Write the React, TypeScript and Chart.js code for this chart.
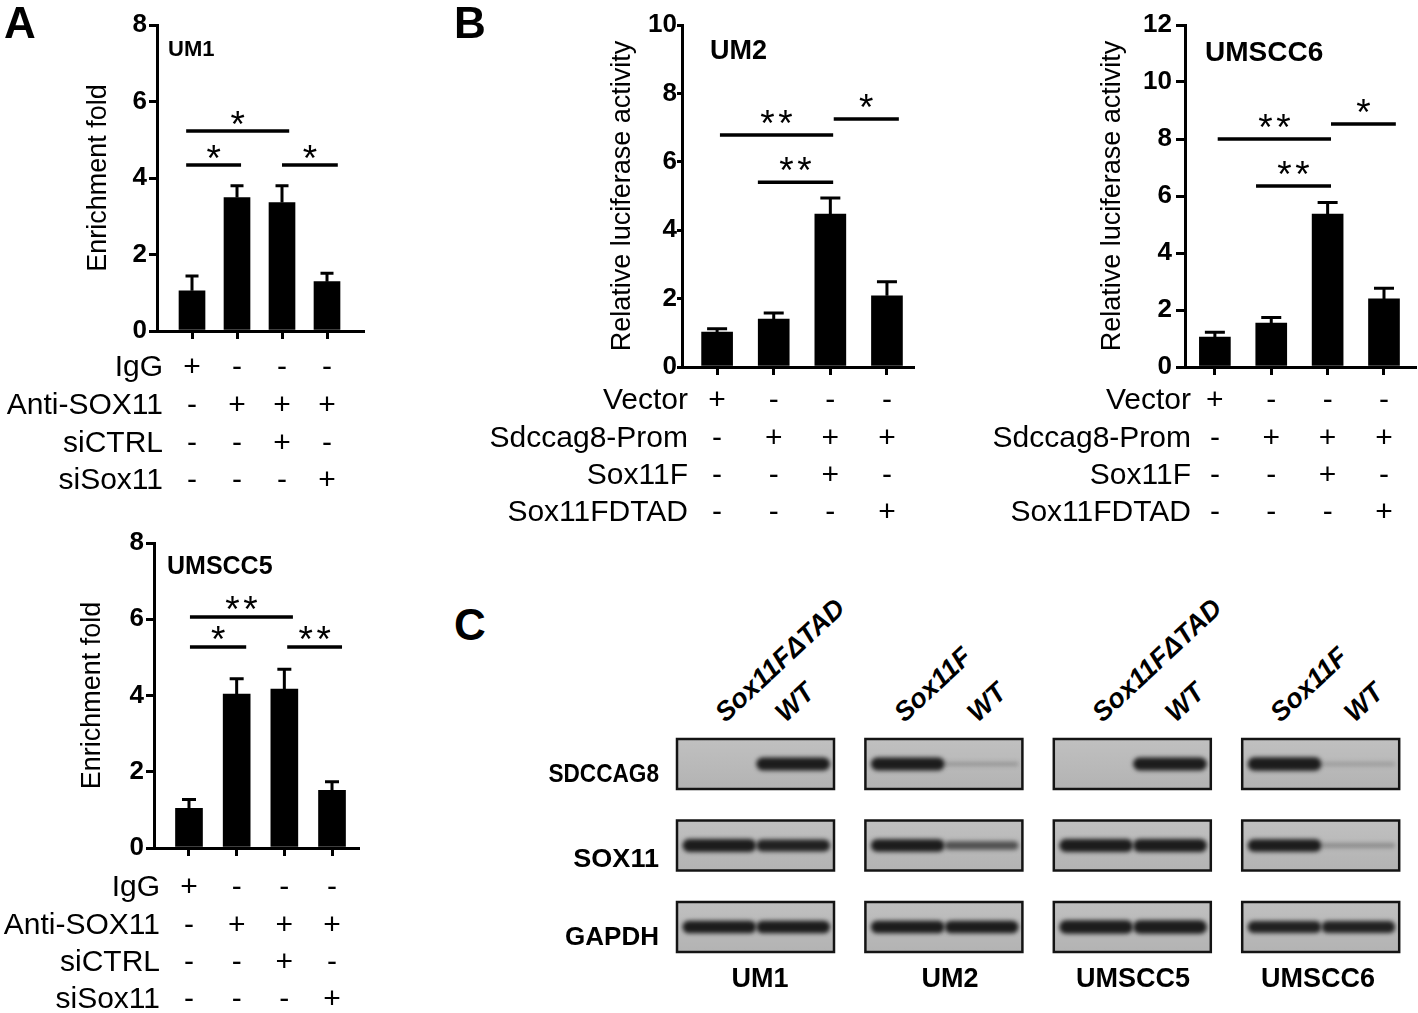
import React, { useEffect, useRef } from "react";
import { Chart, registerables } from "chart.js";

Chart.register(...registerables);

const FONT = '"Liberation Sans", Arial, Helvetica, sans-serif';

// ---------------- Panel A : ChIP enrichment ----------------
const A_CONDITIONS = ["IgG", "Anti-SOX11", "siCTRL", "siSox11"];
const A_SIGNS = [
  ["+", "-", "-", "-"],
  ["-", "+", "+", "+"],
  ["-", "-", "+", "-"],
  ["-", "-", "-", "+"],
];
const A_TICKS = [0, 2, 4, 6, 8];

const UM1_ENRICH = [1.05, 3.49, 3.36, 1.29];
const UM1_ERR = [0.39, 0.31, 0.44, 0.22];
const UM1_SIG_FROM = [-0.13, -0.13, 2.0];
const UM1_SIG_TO = [2.16, 1.09, 3.24];
const UM1_SIG_Y = [5.23, 4.34, 4.34];
const UM1_SIG_LABEL = ["*", "*", "*"];

const UMSCC5_ENRICH = [1.04, 4.04, 4.17, 1.51];
const UMSCC5_ERR = [0.23, 0.4, 0.52, 0.23];
const UMSCC5_SIG_FROM = [0.02, 0.02, 2.06];
const UMSCC5_SIG_TO = [2.18, 1.2, 3.21];
const UMSCC5_SIG_Y = [6.06, 5.27, 5.27];
const UMSCC5_SIG_LABEL = ["**", "*", "**"];

// ---------------- Panel B : luciferase ----------------
const B_CONDITIONS = ["Vector", "Sdccag8-Prom", "Sox11F", "Sox11FDTAD"];
const B_SIGNS = [
  ["+", "-", "-", "-"],
  ["-", "+", "+", "+"],
  ["-", "-", "+", "-"],
  ["-", "-", "-", "+"],
];
const UM2_TICKS = [0, 2, 4, 6, 8, 10];
const UMSCC6_TICKS = [0, 2, 4, 6, 8, 10, 12];

const UM2_LUC = [1.02, 1.4, 4.47, 2.08];
const UM2_ERR = [0.1, 0.18, 0.47, 0.41];
const UM2_SIG_FROM = [0.05, 0.72, 2.06];
const UM2_SIG_TO = [2.05, 2.05, 3.21];
const UM2_SIG_Y = [6.78, 5.4, 7.25];
const UM2_SIG_LABEL = ["**", "**", "*"];

const UMSCC6_LUC = [1.05, 1.54, 5.37, 2.39];
const UMSCC6_ERR = [0.17, 0.2, 0.4, 0.37];
const UMSCC6_SIG_FROM = [0.05, 0.73, 2.06];
const UMSCC6_SIG_TO = [2.06, 2.06, 3.21];
const UMSCC6_SIG_Y = [8.0, 6.35, 8.53];
const UMSCC6_SIG_LABEL = ["**", "**", "*"];

// ---------------- Panel C : western blots ----------------
const BLOT_CELLS = ["UM1", "UM2", "UMSCC5", "UMSCC6"];
const BLOT_LANES = ["Sox11FΔTAD", "WT", "Sox11F", "WT", "Sox11FΔTAD", "WT", "Sox11F", "WT"];
const BLOT_PROTEINS = ["SDCCAG8", "SOX11", "GAPDH"];
const SDCCAG8_BANDS = [0, 0.95, 0.95, 0.12, 0, 0.95, 1, 0.1];
const SOX11_BANDS = [0.95, 0.85, 0.9, 0.55, 0.95, 0.97, 0.9, 0.2];
const GAPDH_BANDS = [0.92, 0.92, 0.92, 0.92, 1, 1, 0.85, 0.85];

// ---------------- layout (styles only) ----------------
type Box = { x: number; y: number; w: number; h: number };
type Area = { l: number; t: number; r: number; b: number };

interface Spec {
  canvas: Box;
  area: Area;
  xMin: number;
  xMax: number;
  yMax: number;
  ticks: number[];
  tickLen: number;
  tickPad: number;
  title: string;
  titleX: number;
  barW: number;
  cap: number;
  values: number[];
  errors: number[];
  sigFrom: number[];
  sigTo: number[];
  sigY: number[];
  sigLabel: string[];
  starOff: number;
  cell: string;
  cellSize: number;
  cellDx: number;
  cellDy: number;
  rows: string[];
  signs: string[][];
  rowStart: number;
  rowGap: number;
}

const SPECS: Spec[] = [
  {
    canvas: { x: 0, y: 0, w: 400, h: 500 },
    area: { l: 157, t: 25, r: 363, b: 331 },
    xMin: -0.778, xMax: 3.8, yMax: 8, ticks: A_TICKS, tickLen: 8, tickPad: 2,
    title: "Enrichment fold", titleX: 99, barW: 26, cap: 13,
    values: UM1_ENRICH, errors: UM1_ERR,
    sigFrom: UM1_SIG_FROM, sigTo: UM1_SIG_TO, sigY: UM1_SIG_Y, sigLabel: UM1_SIG_LABEL, starOff: 6,
    cell: "UM1", cellSize: 22, cellDx: 11, cellDy: 25,
    rows: A_CONDITIONS, signs: A_SIGNS, rowStart: 37, rowGap: 37.7,
  },
  {
    canvas: { x: 0, y: 520, w: 400, h: 493 },
    area: { l: 154, t: 543, r: 358, b: 848 },
    xMin: -0.734, xMax: 3.545, yMax: 8, ticks: A_TICKS, tickLen: 8, tickPad: 2,
    title: "Enrichment fold", titleX: 93, barW: 27, cap: 14,
    values: UMSCC5_ENRICH, errors: UMSCC5_ERR,
    sigFrom: UMSCC5_SIG_FROM, sigTo: UMSCC5_SIG_TO, sigY: UMSCC5_SIG_Y, sigLabel: UMSCC5_SIG_LABEL, starOff: 5,
    cell: "UMSCC5", cellSize: 25, cellDx: 13, cellDy: 24,
    rows: A_CONDITIONS, signs: A_SIGNS, rowStart: 40, rowGap: 37.3,
  },
  {
    canvas: { x: 440, y: 0, w: 490, h: 540 },
    area: { l: 682, t: 25, r: 913, b: 367 },
    xMin: -0.62, xMax: 3.46, yMax: 10, ticks: UM2_TICKS, tickLen: 5, tickPad: 0,
    title: "Relative luciferase activity", titleX: 623, barW: 31, cap: 20,
    values: UM2_LUC, errors: UM2_ERR,
    sigFrom: UM2_SIG_FROM, sigTo: UM2_SIG_TO, sigY: UM2_SIG_Y, sigLabel: UM2_SIG_LABEL, starOff: 1,
    cell: "UM2", cellSize: 27, cellDx: 28, cellDy: 27,
    rows: B_CONDITIONS, signs: B_SIGNS, rowStart: 34, rowGap: 37.3,
  },
  {
    canvas: { x: 960, y: 0, w: 458, h: 540 },
    area: { l: 1185, t: 25, r: 1415, b: 367 },
    xMin: -0.53, xMax: 3.55, yMax: 12, ticks: UMSCC6_TICKS, tickLen: 9, tickPad: 4,
    title: "Relative luciferase activity", titleX: 1113, barW: 31, cap: 20,
    values: UMSCC6_LUC, errors: UMSCC6_ERR,
    sigFrom: UMSCC6_SIG_FROM, sigTo: UMSCC6_SIG_TO, sigY: UMSCC6_SIG_Y, sigLabel: UMSCC6_SIG_LABEL, starOff: 1,
    cell: "UMSCC6", cellSize: 28, cellDx: 20, cellDy: 28,
    rows: B_CONDITIONS, signs: B_SIGNS, rowStart: 34, rowGap: 37.3,
  },
];

function annotPlugin(p: Spec) {
  return {
    id: "annot",
    afterDraw(chart: any) {
      const { ctx, chartArea } = chart;
      const xs = chart.scales.x;
      const ys = chart.scales.y;
      ctx.save();
      ctx.strokeStyle = "#000";
      ctx.fillStyle = "#000";
      // error bars (upper SEM)
      ctx.lineWidth = 3;
      p.values.forEach((v, i) => {
        const x = xs.getPixelForValue(i);
        const yb = ys.getPixelForValue(v);
        const yt = ys.getPixelForValue(v + p.errors[i]);
        ctx.beginPath();
        ctx.moveTo(x, yb);
        ctx.lineTo(x, yt);
        ctx.moveTo(x - p.cap / 2, yt);
        ctx.lineTo(x + p.cap / 2, yt);
        ctx.stroke();
      });
      // significance brackets
      ctx.lineWidth = 3.5;
      ctx.font = `37px ${FONT}`;
      ctx.textAlign = "center";
      ctx.textBaseline = "alphabetic";
      p.sigFrom.forEach((f, k) => {
        const x0 = xs.getPixelForValue(f);
        const x1 = xs.getPixelForValue(p.sigTo[k]);
        const y = ys.getPixelForValue(p.sigY[k]);
        ctx.beginPath();
        ctx.moveTo(x0, y);
        ctx.lineTo(x1, y);
        ctx.stroke();
        const n = p.sigLabel[k].length;
        const mid = (x0 + x1) / 2;
        for (let j = 0; j < n; j++) {
          ctx.fillText("*", mid + (j - (n - 1) / 2) * 18, y + p.starOff);
        }
      });
      // cell line label
      ctx.font = `bold ${p.cellSize}px ${FONT}`;
      ctx.textAlign = "left";
      ctx.textBaseline = "middle";
      ctx.fillText(p.cell, chartArea.left + p.cellDx, chartArea.top + p.cellDy);
      // condition table
      ctx.font = `30px ${FONT}`;
      ctx.textBaseline = "middle";
      p.rows.forEach((r, ri) => {
        const y = chartArea.bottom + p.rowStart + ri * p.rowGap;
        ctx.textAlign = "right";
        ctx.fillText(r, chartArea.left + 6, y);
        ctx.textAlign = "center";
        p.signs[ri].forEach((s, i) => ctx.fillText(s, xs.getPixelForValue(i), y));
      });
      ctx.restore();
    },
  };
}

function makeBarConfig(p: Spec): any {
  const c = p.canvas;
  const a = p.area;
  const idx = p.values.map((_, i) => i);
  return {
    type: "bar",
    data: {
      datasets: [
        {
          data: p.values.map((v, i) => ({ x: i, y: v })),
          backgroundColor: "#000",
          borderWidth: 0,
          barThickness: p.barW,
        },
      ],
    },
    options: {
      animation: false,
      responsive: false,
      maintainAspectRatio: false,
      events: [],
      layout: {
        padding: { left: 0, top: a.t - c.y, right: c.x + c.w - a.r, bottom: 0 },
      },
      plugins: { legend: { display: false }, tooltip: { enabled: false }, title: { display: false } },
      scales: {
        x: {
          type: "linear",
          min: p.xMin,
          max: p.xMax,
          offset: false,
          afterBuildTicks: (s: any) => {
            s.ticks = idx.map((v) => ({ value: v }));
          },
          afterFit: (s: any) => {
            s.height = c.y + c.h - a.b;
          },
          ticks: { display: false },
          grid: {
            display: true,
            offset: false,
            drawOnChartArea: false,
            drawTicks: true,
            tickLength: 8,
            tickWidth: 3,
            tickColor: "#000",
            color: "#000",
            lineWidth: 3,
          },
          border: { display: true, color: "#000", width: 3 },
        },
        y: {
          type: "linear",
          min: 0,
          max: p.yMax,
          afterBuildTicks: (s: any) => {
            s.ticks = p.ticks.map((v) => ({ value: v }));
          },
          afterFit: (s: any) => {
            s.width = a.l - c.x;
          },
          ticks: {
            color: "#000",
            padding: p.tickPad,
            font: { family: FONT, size: 26, weight: "bold" },
          },
          grid: {
            display: true,
            drawOnChartArea: false,
            drawTicks: true,
            tickLength: p.tickLen,
            tickWidth: 3,
            tickColor: "#000",
            color: "#000",
            lineWidth: 3,
          },
          border: { display: true, color: "#000", width: 3 },
          title: {
            display: true,
            text: p.title,
            color: "#000",
            font: { family: FONT, size: 27, weight: "normal", lineHeight: 1.2 },
            padding: { top: p.titleX - c.x - 16.2, bottom: 0 },
          },
        },
      },
    },
    plugins: [annotPlugin(p)],
  };
}

// blot geometry (style)
const BLOT = {
  canvas: { x: 670, y: 730, w: 740, h: 230 },
  boxStep: 1.2,
  rowStep: 1.63,
  lanePos: [0.27, 0.74],
  laneWidth: 0.47,
  xMin: -7 / 157,
  xMax: (1410 - 677) / 157,
  yMin: -9 / 50,
  yMax: (960 - 739) / 50,
};

const blotPlugin = {
  id: "blots",
  afterDraw(chart: any) {
    const { ctx } = chart;
    const xs = chart.scales.x;
    const ys = chart.scales.y;
    const pxY = Math.abs(ys.getPixelForValue(1) - ys.getPixelForValue(0));
    const pxX = Math.abs(xs.getPixelForValue(1) - xs.getPixelForValue(0));
    const rows = [SDCCAG8_BANDS, SOX11_BANDS, GAPDH_BANDS];
    rows.forEach((bands, r) => {
      const y0 = ys.getPixelForValue(r * BLOT.rowStep);
      const y1 = ys.getPixelForValue(r * BLOT.rowStep + 1);
      BLOT_CELLS.forEach((_, b) => {
        const x0 = xs.getPixelForValue(b * BLOT.boxStep);
        const x1 = xs.getPixelForValue(b * BLOT.boxStep + 1);
        ctx.save();
        const g = ctx.createLinearGradient(0, y0, 0, y1);
        g.addColorStop(0, "#c0c0c0");
        g.addColorStop(1, "#b3b3b3");
        ctx.fillStyle = g;
        ctx.fillRect(x0, y0, x1 - x0, y1 - y0);
        ctx.beginPath();
        ctx.rect(x0, y0, x1 - x0, y1 - y0);
        ctx.clip();
        for (let lane = 0; lane < 2; lane++) {
          const v = bands[b * 2 + lane];
          if (v <= 0) continue;
          const cx = xs.getPixelForValue(b * BLOT.boxStep + BLOT.lanePos[lane]);
          const cy = ys.getPixelForValue(r * BLOT.rowStep + 0.5);
          const h = pxY * (0.05 + 0.22 * v);
          const w = pxX * BLOT.laneWidth;
          ctx.filter = "blur(2.2px)";
          ctx.fillStyle = `rgba(28,28,28,${Math.min(1, 0.12 + v)})`;
          ctx.beginPath();
          ctx.roundRect(cx - w / 2, cy - h / 2, w, h, h / 2);
          ctx.fill();
        }
        ctx.restore();
        ctx.save();
        ctx.strokeStyle = "#141414";
        ctx.lineWidth = 2.5;
        ctx.strokeRect(x0, y0, x1 - x0, y1 - y0);
        ctx.restore();
      });
    });
  },
};

function makeBlotConfig(): any {
  return {
    type: "bar",
    data: { datasets: [] },
    options: {
      animation: false,
      responsive: false,
      maintainAspectRatio: false,
      events: [],
      layout: { padding: 0 },
      plugins: { legend: { display: false }, tooltip: { enabled: false } },
      scales: {
        x: { type: "linear", display: false, min: BLOT.xMin, max: BLOT.xMax, offset: false },
        y: { type: "linear", display: false, min: BLOT.yMin, max: BLOT.yMax, reverse: true },
      },
    },
    plugins: [blotPlugin],
  };
}

function ChartCanvas({ box, make }: { box: Box; make: () => any }) {
  const ref = useRef<HTMLCanvasElement>(null);
  useEffect(() => {
    const chart = new Chart(ref.current as HTMLCanvasElement, make());
    return () => chart.destroy();
  }, []);
  return (
    <canvas
      ref={ref}
      width={box.w}
      height={box.h}
      style={{ position: "absolute", left: box.x, top: box.y, width: box.w, height: box.h }}
    />
  );
}

function Txt(props: {
  x: number;
  y: number;
  size: number;
  weight?: number;
  italic?: boolean;
  align?: "left" | "right" | "center";
  rotate?: number;
  scaleX?: number;
  children: React.ReactNode;
}) {
  const { x, y, size, weight = 400, italic = false, align = "left", rotate = 0, scaleX = 1 } = props;
  const base = 0.8465 * size;
  const style: any = {
    position: "absolute",
    top: y - base,
    fontSize: size,
    lineHeight: `${size}px`,
    fontFamily: FONT,
    fontWeight: weight,
    fontStyle: italic ? "italic" : "normal",
    whiteSpace: "nowrap",
    color: "#000",
  };
  if (align === "left") style.left = x;
  else if (align === "right") {
    style.left = x - 1000;
    style.width = 1000;
    style.textAlign = "right";
    if (scaleX !== 1) {
      style.transform = `scaleX(${scaleX})`;
      style.transformOrigin = "100% 50%";
    }
  } else {
    style.left = x - 500;
    style.width = 1000;
    style.textAlign = "center";
  }
  if (rotate) {
    style.transform = `rotate(${rotate}deg)`;
    style.transformOrigin = `0px ${base}px`;
  }
  return <div style={style}>{props.children}</div>;
}

const LANE_LABEL_X = [726, 786, 905, 978, 1103, 1176, 1281, 1355];
const PROTEIN_LABEL_Y = [782, 867, 945];
const PROTEIN_LABEL_SCALE = [0.87, 1.04, 1.0];
const CELL_LABEL_X = [760, 950, 1133, 1318];

export default function App() {
  return (
    <div
      style={{
        position: "absolute",
        left: 0,
        top: 0,
        width: 1418,
        height: 1013,
        background: "#fff",
        overflow: "hidden",
      }}
    >
      {SPECS.map((s, i) => (
        <ChartCanvas key={i} box={s.canvas} make={() => makeBarConfig(s)} />
      ))}
      <ChartCanvas box={BLOT.canvas} make={makeBlotConfig} />

      <Txt x={4} y={38} size={44} weight={700}>A</Txt>
      <Txt x={454} y={38} size={44} weight={700}>B</Txt>
      <Txt x={454} y={640} size={44} weight={700}>C</Txt>

      {BLOT_LANES.map((t, i) => (
        <Txt key={"l" + i} x={LANE_LABEL_X[i]} y={724} size={27} weight={700} italic rotate={-43}>
          {t}
        </Txt>
      ))}
      {BLOT_PROTEINS.map((t, i) => (
        <Txt
          key={"p" + i}
          x={659}
          y={PROTEIN_LABEL_Y[i]}
          size={26}
          weight={700}
          align="right"
          scaleX={PROTEIN_LABEL_SCALE[i]}
        >
          {t}
        </Txt>
      ))}
      {BLOT_CELLS.map((t, i) => (
        <Txt key={"c" + i} x={CELL_LABEL_X[i]} y={988} size={27} weight={700} align="center">
          {t}
        </Txt>
      ))}
    </div>
  );
}
